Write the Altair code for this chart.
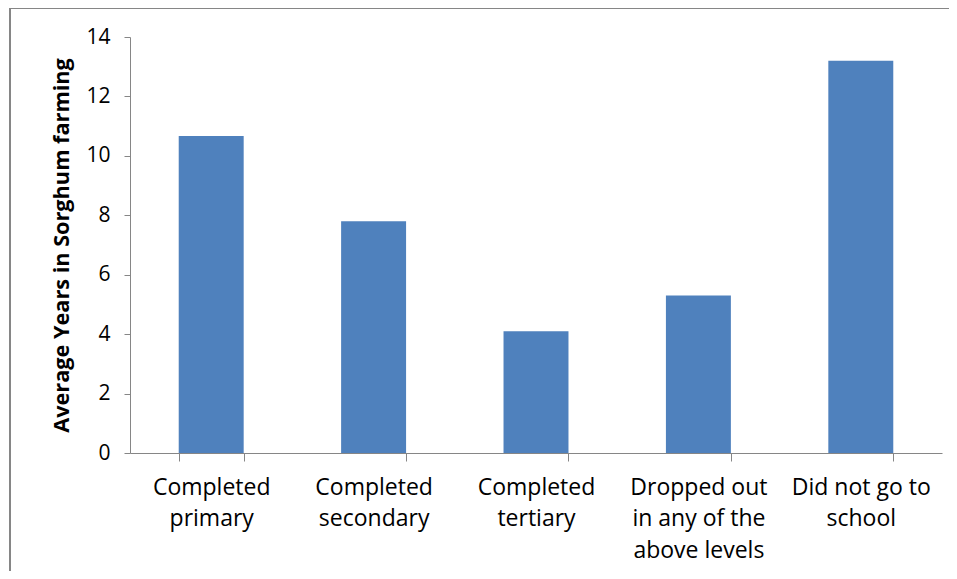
import altair as alt
import pandas as pd

categories = [
    "Completed primary",
    "Completed secondary",
    "Completed tertiary",
    "Dropped out in any of the above levels",
    "Did not go to school",
]
label_lines = [
    ["Completed", "primary"],
    ["Completed", "secondary"],
    ["Completed", "tertiary"],
    ["Dropped out", "in any of the", "above levels"],
    ["Did not go to", "school"],
]
values = [10.67, 7.8, 4.1, 5.3, 13.2]
y_ticks = [0, 2, 4, 6, 8, 10, 12, 14]

df = pd.DataFrame({"cat": categories, "val": values})

expr = "''"
for c, lines in zip(reversed(categories), reversed(label_lines)):
    arr = "[" + ",".join("'" + l + "'" for l in lines) + "]"
    expr = f"datum.value == '{c}' ? {arr} : ({expr})"

FONT = "Open Sans"
GRAY = "#868686"

bars = alt.Chart(df).mark_bar(color="#4F81BD").encode(
    x=alt.X(
        "cat:N",
        sort=categories,
        scale=alt.Scale(paddingInner=0.6, paddingOuter=0.3),
        axis=alt.Axis(
            title=None,
            labelAngle=0,
            labelExpr=expr,
            tickBand="extent",
            domainColor=GRAY,
            tickColor=GRAY,
            tickSize=8,
            labelPadding=15,
            labelFont=FONT,
            labelFontSize=23,
            labelColor="#000000",
            labelLineHeight=31.5,
            labelBaseline="top",
            labelLimit=300,
        ),
    ),
    y=alt.Y(
        "val:Q",
        scale=alt.Scale(domain=[0, 14]),
        axis=alt.Axis(
            title="Average Years in Sorghum farming",
            values=y_ticks,
            grid=False,
            domainColor=GRAY,
            tickColor=GRAY,
            tickSize=6,
            labelPadding=14,
            labelFont=FONT,
            labelFontSize=21,
            labelColor="#000000",
            titleFont=FONT,
            titleFontSize=21.7,
            titleFontWeight="bold",
            titleColor="#000000",
            titlePadding=12,
        ),
    ),
)

border = alt.Chart(df).mark_rect(fill=None, stroke=GRAY, strokeWidth=1.5).encode(
    x=alt.value(-120), x2=alt.value(900), y=alt.value(-29), y2=alt.value(600)
)

chart = alt.layer(border, bars).properties(
    width=812,
    height=416,
    padding={"left": 122, "top": 29, "right": 7, "bottom": 118},
    autosize=alt.AutoSizeParams(type="none"),
).configure_view(stroke=None)

chart.save("out.html", embed_options={"renderer": "svg", "actions": False})
